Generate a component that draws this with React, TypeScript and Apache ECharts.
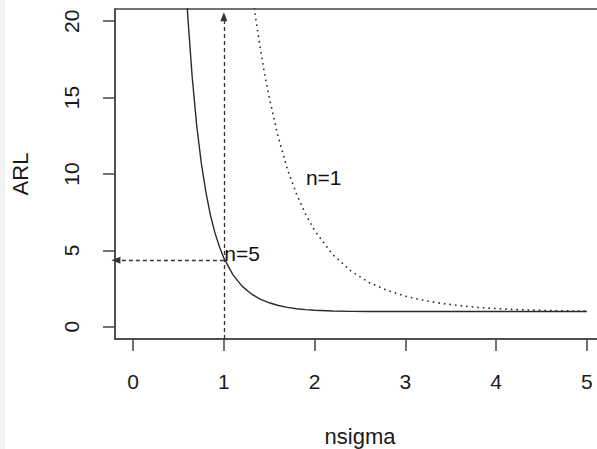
import React, { useEffect, useRef } from "react";
import * as echarts from "echarts";

const xTicks = [0, 1, 2, 3, 4, 5];
const yTicks = [0, 5, 10, 15, 20];

const nsigmaN5 = [0.5, 0.55, 0.6, 0.65, 0.7, 0.75, 0.8, 0.85, 0.9, 0.95, 1.0, 1.1, 1.2, 1.3, 1.4, 1.5, 1.6, 1.7, 1.8, 1.9, 2.0, 2.2, 2.4, 2.6, 2.8, 3.0, 3.5, 4.0, 4.5, 5.0];
const arlN5 = [33.4, 26.0, 20.5, 16.4, 13.2, 10.76, 8.86, 7.36, 6.18, 5.25, 4.49, 3.4, 2.66, 2.16, 1.81, 1.57, 1.39, 1.27, 1.18, 1.12, 1.08, 1.03, 1.01, 1.0, 1.0, 1.0, 1.0, 1.0, 1.0, 1.0];

const nsigmaN1 = [1.2, 1.3, 1.35, 1.4, 1.45, 1.5, 1.6, 1.7, 1.8, 1.9, 2.0, 2.2, 2.4, 2.6, 2.8, 3.0, 3.2, 3.4, 3.6, 3.8, 4.0, 4.2, 4.4, 4.6, 4.8, 5.0];
const arlN1 = [27.8, 22.4, 20.2, 18.3, 16.5, 15.0, 12.4, 10.3, 8.69, 7.37, 6.3, 4.72, 3.65, 2.9, 2.38, 2.0, 1.73, 1.53, 1.38, 1.27, 1.19, 1.13, 1.09, 1.06, 1.04, 1.02];

const labelX = [1.2, 2.1];
const labelY = [4.8, 9.8];
const labelText = ["n=5", "n=1"];

const vArrow = [[1, -0.8], [1, 20.3]];
const hArrow = [[1, 4.35], [-0.19, 4.35]];

const FONT = "'Liberation Sans', Arial, sans-serif";
const AXIS_COLOR = "#444";
const TEXT_COLOR = "#1a1a1a";

export default function App() {
  const ref = useRef<HTMLDivElement>(null);
  useEffect(() => {
    if (!ref.current) return;
    const chart = echarts.init(ref.current, null, { renderer: "svg" });
    const option: any = {
      animation: false,
      backgroundColor: "#ffffff",
      textStyle: { fontFamily: FONT },
      graphic: [
        {
          type: "rect",
          left: 0,
          top: 0,
          shape: { width: 5, height: 449 },
          style: { fill: "#f3f3f3" },
          silent: true,
        },
      ],
      grid: {
        left: 115,
        top: 9,
        width: 490,
        height: 330,
        outerBoundsMode: "none",
        containLabel: false,
        show: true,
        borderColor: AXIS_COLOR,
        borderWidth: 1.5,
        backgroundColor: "transparent",
      },
      xAxis: {
        type: "value",
        min: -0.2,
        max: 5.2,
        name: "nsigma",
        nameLocation: "middle",
        nameGap: 86,
        nameTextStyle: { fontSize: 22, color: TEXT_COLOR, fontFamily: FONT },
        axisLine: { show: true, onZero: false, lineStyle: { color: AXIS_COLOR, width: 1.5 } },
        axisTick: { show: true, length: 12, customValues: xTicks, lineStyle: { color: AXIS_COLOR, width: 1.5 } },
        axisLabel: { customValues: xTicks, fontSize: 21, color: TEXT_COLOR, margin: 32, fontFamily: FONT },
        splitLine: { show: false },
      },
      yAxis: {
        type: "value",
        min: -0.8,
        max: 20.8,
        name: "ARL",
        nameLocation: "middle",
        nameGap: 84,
        nameRotate: 90,
        nameTextStyle: { fontSize: 22, color: TEXT_COLOR, fontFamily: FONT },
        axisLine: { show: true, onZero: false, lineStyle: { color: AXIS_COLOR, width: 1.5 } },
        axisTick: { show: true, length: 12, customValues: yTicks, lineStyle: { color: AXIS_COLOR, width: 1.5 } },
        axisLabel: { customValues: yTicks, rotate: 90, fontSize: 21, color: TEXT_COLOR, margin: 33, fontFamily: FONT },
        splitLine: { show: false },
      },
      series: [
        {
          name: "n=5",
          type: "line",
          data: nsigmaN5.map((x, i) => [x, arlN5[i]]),
          showSymbol: false,
          symbol: "none",
          clip: true,
          lineStyle: { color: "#2a2a2a", width: 1.4, type: "solid" },
        },
        {
          name: "n=1",
          type: "line",
          data: nsigmaN1.map((x, i) => [x, arlN1[i]]),
          showSymbol: false,
          symbol: "none",
          clip: true,
          lineStyle: { color: "#2a2a2a", width: 1.6, type: [1.6, 4] },
        },
        {
          name: "arrows",
          type: "line",
          data: [],
          markLine: {
            silent: true,
            animation: false,
            symbol: ["none", "triangle"],
            symbolSize: [7, 9],
            label: { show: false },
            lineStyle: { color: "#333", width: 1.3, type: [4, 3] },
            data: [
              [{ coord: vArrow[0] }, { coord: vArrow[1] }],
              [{ coord: hArrow[0] }, { coord: hArrow[1] }],
            ],
          },
        },
        {
          name: "labels",
          type: "scatter",
          symbolSize: 0,
          itemStyle: { color: "#111" },
          data: labelX.map((x, i) => ({ value: [x, labelY[i]], name: labelText[i] })),
          label: {
            show: true,
            position: "inside",
            formatter: (p: any) => p.name,
            fontSize: 21,
            color: "#111",
            textBorderWidth: 0,
            opacity: 1,
            fontFamily: FONT,
          },
        },
      ],
    };
    chart.setOption(option);
    return () => chart.dispose();
  }, []);
  return (
    <div
      ref={ref}
      style={{ position: "fixed", left: 0, top: 0, width: 597, height: 449 }}
    />
  );
}
